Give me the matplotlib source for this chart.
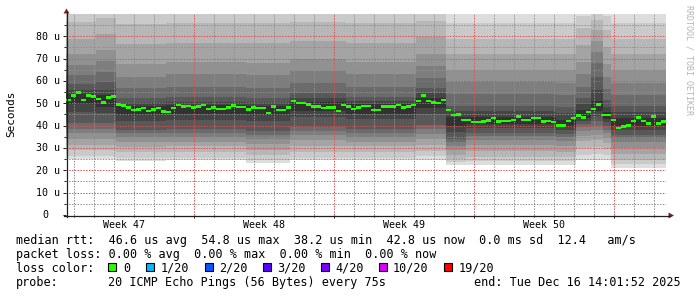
import matplotlib
matplotlib.use("Agg")
import matplotlib.pyplot as plt
import matplotlib.dates as mdates
import matplotlib.transforms as mtransforms
from matplotlib.patches import Rectangle, Polygon
from matplotlib.lines import Line2D
from matplotlib.ticker import MultipleLocator
import numpy as np
import pandas as pd

# ---------------------------------------------------------------- data
start_time = "2025-11-16 14:01:52"
end_time = "2025-12-16 14:01:52"
step_hours = 6

# median rtt in microseconds, one value per 6 hour step
median_us = [
    51.5, 53.4, 54.7, 51.5, 53.4, 53.0, 51.9, 50.4, 52.5, 53.0,
    49.5, 49.0, 48.0, 47.0, 47.2, 47.8, 46.5, 47.2, 47.9, 46.3,
    46.1, 47.8, 49.2, 48.5, 48.8, 48.0, 48.5, 49.2, 47.4, 48.0,
    47.4, 47.4, 48.0, 49.0, 48.3, 48.3, 47.2, 48.0, 47.8, 47.8,
    45.5, 48.5, 47.0, 47.0, 48.0, 51.0, 50.0, 50.0, 49.5, 48.5,
    48.5, 47.8, 48.0, 48.0, 46.5, 49.2, 48.5, 47.4, 48.0, 48.8,
    48.8, 47.0, 47.0, 48.5, 48.5, 48.5, 49.2, 48.0, 48.5, 49.2,
    51.0, 53.4, 51.0, 50.4, 50.0, 51.5, 47.0, 44.8, 45.0, 42.5,
    42.5, 41.5, 41.5, 41.8, 42.3, 43.3, 41.8, 42.1, 42.1, 42.5,
    44.0, 42.5, 42.5, 43.3, 43.3, 41.8, 42.1, 41.5, 40.0, 40.0,
    42.0, 43.3, 44.5, 43.5, 46.0, 47.5, 49.5, 44.8, 44.8, 42.5,
    39.0, 39.5, 40.0, 42.0, 43.5, 42.0, 41.0, 44.0, 41.0, 41.8,
]

# smoke: the 20 sorted ping times (microseconds) for each period
smoke_starts = [
    "2025-11-16 14:01:52", "2025-11-18 02:00:00", "2025-11-19 02:00:00",
    "2025-11-21 14:00:00", "2025-11-25 14:00:00", "2025-11-27 19:00:00",
    "2025-11-30 14:00:00", "2025-12-04 02:00:00", "2025-12-05 14:00:00",
    "2025-12-06 14:00:00",
    "2025-12-11 02:00:00", "2025-12-12 02:00:00", "2025-12-12 20:00:00",
    "2025-12-13 10:30:00", "2025-12-13 20:00:00",
]
smoke_pings = [
    [25.0, 26.5, 29.0, 31.5, 34.0, 36.5, 38.5, 41.0, 46.0, 49.5, 54.0, 56.0, 58.5, 62.5, 67.0, 72.0, 79.0, 86.5, 91.0, 100.0],
    [25.0, 26.5, 29.0, 31.5, 34.0, 36.5, 38.5, 41.0, 45.5, 48.5, 53.5, 56.0, 59.5, 64.0, 69.0, 74.0, 81.0, 88.0, 92.0, 100.0],
    [24.3, 25.5, 28.0, 30.4, 32.6, 34.8, 36.5, 38.2, 42.2, 44.8, 48.8, 50.3, 52.5, 57.0, 62.0, 67.5, 76.5, 85.5, 90.5, 100.0],
    [24.5, 25.7, 28.2, 30.7, 32.9, 35.1, 36.8, 38.4, 42.6, 45.2, 49.3, 50.8, 52.8, 57.5, 63.0, 68.5, 77.0, 86.0, 91.0, 100.0],
    [23.3, 24.6, 26.8, 29.3, 31.8, 34.0, 36.0, 37.8, 42.0, 44.8, 48.8, 50.3, 52.5, 57.0, 62.5, 68.0, 77.0, 86.0, 91.0, 100.0],
    [24.4, 25.7, 28.3, 31.0, 33.4, 35.7, 37.6, 39.4, 43.8, 46.6, 50.6, 52.2, 54.5, 59.0, 64.5, 70.0, 78.0, 86.5, 91.0, 100.0],
    [24.5, 25.7, 28.2, 30.7, 32.9, 35.1, 36.8, 38.5, 42.8, 45.4, 49.5, 51.0, 53.0, 57.5, 63.0, 68.5, 77.0, 86.0, 91.0, 100.0],
    [24.7, 26.2, 28.8, 31.5, 34.0, 36.4, 38.4, 40.4, 45.0, 48.0, 52.5, 54.5, 57.0, 61.5, 66.5, 72.0, 79.5, 87.0, 91.5, 100.0],
    [22.4, 23.8, 25.2, 27.0, 29.0, 31.0, 32.6, 34.0, 37.0, 39.8, 44.0, 46.5, 49.0, 54.0, 59.5, 65.0, 72.0, 79.0, 86.0, 96.0],
    [22.6, 24.2, 26.0, 28.5, 31.3, 33.5, 35.2, 36.7, 39.0, 40.8, 44.0, 46.5, 49.0, 54.0, 59.5, 65.0, 72.0, 79.0, 86.0, 96.0],
    [22.4, 24.0, 25.8, 28.2, 30.8, 33.0, 34.7, 36.2, 38.0, 39.5, 42.5, 45.5, 48.5, 53.5, 59.0, 65.0, 72.0, 79.0, 86.0, 96.0],
    [24.6, 27.0, 30.0, 33.0, 35.5, 37.5, 39.2, 40.6, 42.2, 43.6, 47.0, 49.5, 52.5, 57.5, 63.0, 68.5, 76.0, 83.5, 89.0, 97.0],
    [24.8, 27.5, 30.5, 33.5, 36.0, 38.0, 40.0, 42.0, 44.5, 46.5, 51.0, 56.0, 62.0, 68.0, 73.0, 78.0, 83.0, 87.5, 91.0, 100.0],
    [24.4, 26.8, 29.5, 32.3, 34.6, 36.5, 38.2, 39.8, 41.8, 43.0, 46.0, 48.5, 51.5, 56.5, 62.0, 67.5, 75.0, 83.0, 89.0, 97.0],
    [21.2, 22.8, 24.8, 27.4, 30.2, 32.5, 34.3, 35.9, 38.2, 40.0, 43.5, 46.0, 48.8, 53.8, 59.3, 65.0, 72.0, 79.0, 86.0, 96.0],
]

y_ticks_major = [10, 20, 30, 40, 50, 60, 70, 80]
y_tick_labels = ["10 u", "20 u", "30 u", "40 u", "50 u", "60 u", "70 u", "80 u"]
y_max = 89.8

loss_labels = ["0", "1/20", "2/20", "3/20", "4/20", "10/20", "19/20"]
loss_colors = ["#26ff00", "#00b8ff", "#0059ff", "#5e00ff", "#7e00ff", "#dd00ff", "#ff0000"]

rtt_avg, rtt_max, rtt_min, rtt_now, rtt_sd, rtt_ams = "46.6", "54.8", "38.2", "42.8", "0.0", "12.4"
loss_avg, loss_max, loss_min, loss_now = "0.00", "0.00", "0.00", "0.00"
probe_text = "20 ICMP Echo Pings (56 Bytes) every 75s"
end_text = "end: Tue Dec 16 14:01:52 2025"

# ---------------------------------------------------------------- figure
W, H = 697, 297
fig = plt.figure(figsize=(W / 100, H / 100), dpi=100, facecolor="white")
MONO = "DejaVu Sans Mono"

def fx(x):
    return x / W

def fy(y):
    return 1 - y / H

ax_left, ax_right, ax_top, ax_bottom = 66, 666, 14.4, 215
ax = fig.add_axes([fx(ax_left), fy(ax_bottom), (ax_right - ax_left) / W, (ax_bottom - ax_top) / H])
ax.set_facecolor("white")
for s in ax.spines.values():
    s.set_visible(False)

t0 = pd.Timestamp(start_time)
t1 = pd.Timestamp(end_time)
ax.set_xlim(mdates.date2num(t0), mdates.date2num(t1))
ax.set_ylim(0, y_max)

# smoke
seg_t = mdates.date2num(pd.to_datetime(smoke_starts + [end_time], format="%Y-%m-%d %H:%M:%S"))
P = np.array(smoke_pings)
n = P.shape[1]
half = n // 2
for k in range(half):
    shade = int(190 / half * (half - (k + 1))) + 50
    col = "#%02x%02x%02x" % (shade, shade, shade)
    lo = np.append(P[:, k], P[-1, k])
    hi = np.append(P[:, n - 1 - k], P[-1, n - 1 - k])
    ax.fill_between(seg_t, lo, hi, step="post", color=col, lw=0,
                    antialiased=False, zorder=1)

# median
med = np.array(median_us)
med_t = mdates.date2num(pd.date_range(t0, periods=len(med) + 1, freq=f"{step_hours}h"))
med_ext = np.append(med, med[-1])
ax.fill_between(med_t, med_ext - 0.5, med_ext + 0.6, step="post",
                color=loss_colors[0], lw=0, antialiased=False, zorder=5)

# grid
ax.xaxis.set_major_locator(mdates.WeekdayLocator(byweekday=mdates.SU))
ax.xaxis.set_minor_locator(mdates.DayLocator())
ax.yaxis.set_major_locator(MultipleLocator(10))
ax.yaxis.set_minor_locator(MultipleLocator(5))
ax.set_axisbelow(False)
ax.grid(which="major", color=(0.87, 0.31, 0.31, 0.50), linestyle=(0, (1.4, 1.4)), lw=0.72,
        zorder=3)
ax.grid(which="minor", color=(0.56, 0.56, 0.56, 0.55), linestyle=(0, (1.4, 1.4)), lw=0.72,
        zorder=3)
axis_col = (0.12, 0.12, 0.12)
ax.tick_params(which="major", direction="out", length=2.2, width=0.72, color=axis_col,
               labelbottom=False, labelleft=False)
ax.tick_params(which="minor", direction="out", length=1.5, width=0.72, color=axis_col)

# axis lines and arrows (figure pixel coordinates)
fig.add_artist(Line2D([fx(66.5), fx(66.5)], [fy(217), fy(12)], color=axis_col, lw=0.9))
fig.add_artist(Line2D([fx(64), fx(670)], [fy(215.5), fy(215.5)], color=axis_col, lw=0.9))
arrow_col = (0.5, 0.12, 0.12)
fig.add_artist(Polygon([[fx(63.5), fy(13.5)], [fx(69.5), fy(13.5)], [fx(66.5), fy(8.5)]],
                       closed=True, color=arrow_col, lw=0))
fig.add_artist(Polygon([[fx(668.5), fy(212.5)], [fx(668.5), fy(218.5)], [fx(674), fy(215.5)]],
                       closed=True, color=arrow_col, lw=0))

# y tick labels
ytr = ax.get_yaxis_transform()
lab_off = mtransforms.offset_copy(ytr, fig=fig, x=0, y=-3.3, units="dots")
for v, lab in zip(y_ticks_major, y_tick_labels):
    ax.text(-6 / 600, v, lab, transform=lab_off, ha="right", va="baseline",
            family=MONO, fontsize=7.2, color="black")
ax.text(-18 / 600, 0, "0", transform=lab_off, ha="right", va="baseline",
        family=MONO, fontsize=7.2, color="black")

# x labels: centred on each week
xtr = ax.get_xaxis_transform()
sundays = pd.date_range(t0.normalize() - pd.Timedelta(days=7), t1, freq="W-SUN")
for sd in sundays:
    mid = sd + pd.Timedelta(days=3.5)
    if t0 <= mid <= t1:
        ax.text(mdates.date2num(mid), -(228 - ax_bottom) / (ax_bottom - ax_top),
                "Week %d" % mid.isocalendar()[1], transform=xtr, ha="center",
                va="baseline", family=MONO, fontsize=7.2, color="black", clip_on=False)

# y unit label
fig.text(fx(11), fy(114), "Seconds", rotation=90, ha="center", va="center",
         family=MONO, fontsize=7.9, color="black")

# watermark
fig.text(fx(688.5), fy(5), "RRDTOOL / TOBI OETIKER", rotation=-90, ha="center", va="top",
         family=MONO, fontsize=6.0, color="#b4b4b4")

# legend
LF = 8.5
x0 = 16
row1 = ("median rtt:  %s us avg  %s us max  %s us min  %s us now  %s ms sd  %s   am/s"
        % (rtt_avg, rtt_max, rtt_min, rtt_now, rtt_sd, rtt_ams))
row2 = ("packet loss: %s %% avg  %s %% max  %s %% min  %s %% now"
        % (loss_avg, loss_max, loss_min, loss_now))
fig.text(fx(x0), fy(244), row1, ha="left", va="baseline", family=MONO, fontsize=LF)
fig.text(fx(x0), fy(258.2), row2, ha="left", va="baseline", family=MONO, fontsize=LF)
fig.text(fx(x0), fy(271.6), "loss color:", ha="left", va="baseline", family=MONO, fontsize=LF)
box_x = [108.3, 146.4, 204.5, 262.5, 320.5, 378.6, 444.2]
for bx, lab, c in zip(box_x, loss_labels, loss_colors):
    fig.add_artist(Rectangle((fx(bx), fy(271.3)), 8 / W, 8 / H, facecolor=c,
                             edgecolor="black", lw=0.8))
    fig.text(fx(bx + 14.5), fy(271.6), lab, ha="left", va="baseline", family=MONO, fontsize=LF)
fig.text(fx(x0), fy(286), "probe:", ha="left", va="baseline", family=MONO, fontsize=LF)
fig.text(fx(108), fy(286), probe_text, ha="left", va="baseline", family=MONO, fontsize=LF)
fig.text(fx(681), fy(286), end_text, ha="right", va="baseline", family=MONO, fontsize=LF)

fig.savefig("out.png", dpi=100, facecolor="white")
